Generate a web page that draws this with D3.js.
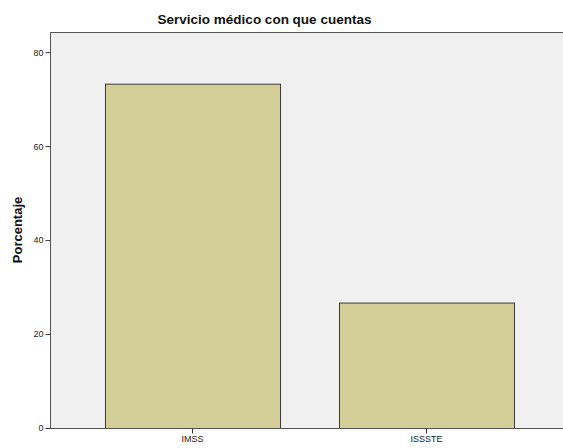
<!DOCTYPE html>
<html><head><meta charset="utf-8">
<script src="https://cdn.jsdelivr.net/npm/d3@7"></script>
<style>body{margin:0;background:#fff}svg{display:block}</style>
</head><body>
<script>
const categories = ["IMSS", "ISSSTE"];
const values = [73.3, 26.7];
const yTicks = [0, 20, 40, 60, 80];
const title = "Servicio médico con que cuentas";
const yLabel = "Porcentaje";

const W = 563, H = 448;
const pLeft = 50, pRight = 563, pTop = 32, pBottom = 428;
const svg = d3.select("body").append("svg").attr("width", W).attr("height", H);

const y = d3.scaleLinear().domain([0, 84.3]).range([pBottom, pTop]);
const x = d3.scaleBand().domain(categories).range([75.5, 543.5]).paddingInner(0.252).paddingOuter(0.126);

svg.append("rect").attr("x", pLeft).attr("y", pTop).attr("width", pRight - pLeft).attr("height", pBottom - pTop)
  .attr("fill", "#f0f0f0");
svg.append("line").attr("x1", pLeft).attr("x2", pRight).attr("y1", pTop + 0.5).attr("y2", pTop + 0.5)
  .attr("stroke", "#555").attr("stroke-width", 1);

svg.selectAll("rect.bar").data(values).enter().append("rect").attr("class", "bar")
  .attr("x", (d, i) => x(categories[i]) + 0.5)
  .attr("y", d => y(d) + 0.5)
  .attr("width", x.bandwidth())
  .attr("height", d => pBottom - y(d))
  .attr("fill", "#d3ce97").attr("stroke", "#3a3a3a").attr("stroke-width", 1);

const yAxis = svg.append("g").attr("transform", `translate(${pLeft + 0.5},0)`)
  .call(d3.axisLeft(y).tickValues(yTicks).tickSize(5).tickPadding(2).tickFormat(d3.format("d")));
const xAxis = svg.append("g").attr("transform", `translate(0,${pBottom + 0.5})`)
  .call(d3.axisBottom(x).tickSize(5).tickPadding(2));
[yAxis, xAxis].forEach(g => {
  g.selectAll("path.domain").attr("stroke", "#555");
  g.selectAll(".tick line").attr("stroke", "#333");
  g.selectAll("text").attr("font-family", "Liberation Sans, Arial, sans-serif").attr("font-size", 9).attr("fill", "#222");
});
yAxis.select("path.domain").attr("d", `M0,${pTop}V${pBottom}`);
xAxis.select("path.domain").attr("d", `M${pLeft},0H${pRight}`);

svg.append("text").attr("x", 264.5).attr("y", 24).attr("text-anchor", "middle")
  .attr("font-family", "Liberation Sans, Arial, sans-serif").attr("font-size", 13.5).attr("fill", "#111")
  .attr("font-weight", "bold").text(title);
svg.append("text").attr("transform", `translate(22,230) rotate(-90)`).attr("text-anchor", "middle")
  .attr("font-family", "Liberation Sans, Arial, sans-serif").attr("font-size", 13).attr("font-weight", "bold")
  .attr("fill", "#111").text(yLabel);
</script>
</body></html>
